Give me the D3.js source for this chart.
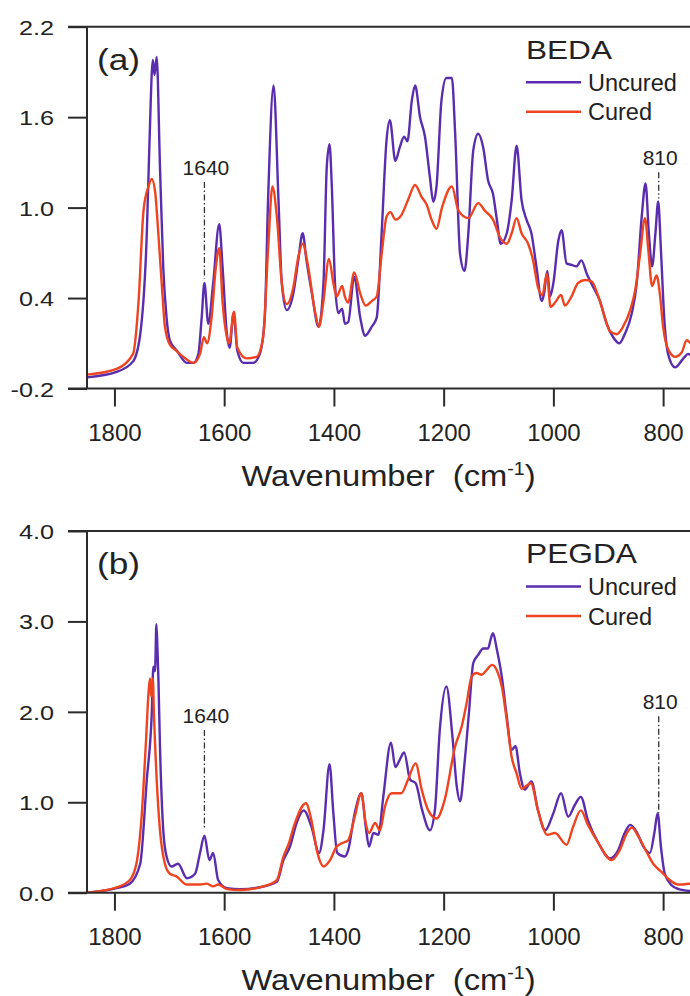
<!DOCTYPE html>
<html>
<head>
<meta charset="utf-8">
<script src="https://cdn.jsdelivr.net/npm/d3@7"></script>
<style>
  body { margin: 0; background: #fff; }
  svg { display: block; }
  svg text { font-family: "Liberation Sans", Arial, sans-serif; }
</style>
</head>
<body>
<div id="chart"></div>
<script>
// wavenumber ticks shared by both panels
const xTicks = [1800, 1600, 1400, 1200, 1000, 800];

// (a) BEDA
const bedaTicks = [-0.2, 0.4, 1.0, 1.6, 2.2];
const bedaUncuredWn = [1850, 1796, 1766, 1753, 1741, 1736, 1730, 1727, 1723, 1717, 1711, 1705, 1699, 1686, 1668, 1656, 1647, 1641, 1636, 1629, 1620, 1609, 1603, 1595, 1590, 1583, 1576, 1565, 1547, 1535, 1526, 1520, 1510, 1501, 1495, 1486, 1474, 1465, 1457, 1450, 1440, 1428, 1419, 1413, 1408, 1404, 1398, 1392, 1385, 1380, 1374, 1363, 1352, 1343, 1331, 1322, 1313, 1304, 1298, 1288, 1280, 1272, 1266, 1258, 1252, 1243, 1234, 1225, 1219, 1213, 1204, 1195, 1185, 1179, 1170, 1162, 1155, 1146, 1137, 1128, 1119, 1110, 1103, 1096, 1085, 1076, 1067, 1058, 1049, 1040, 1031, 1021, 1017, 1011, 1006, 1000, 991, 985, 976, 967, 958, 949, 939, 927, 915, 903, 891, 880, 870, 857, 848, 839, 832, 826, 820, 814, 809, 804, 798, 791, 778, 763, 754, 750];
const bedaUncured = [-0.126, -0.09, -0.02, 0.16, 0.83, 1.45, 1.98, 1.88, 2.0, 1.27, 0.6, 0.27, 0.12, 0.05, -0.03, -0.03, 0.03, 0.27, 0.5, 0.23, 0.5, 0.89, 0.61, 0.16, 0.07, 0.30, 0.05, -0.03, -0.03, 0.03, 0.27, 1.05, 1.81, 1.05, 0.5, 0.32, 0.43, 0.65, 0.83, 0.65, 0.43, 0.21, 0.5, 1.27, 1.42, 1.16, 0.5, 0.3, 0.33, 0.23, 0.24, 0.54, 0.27, 0.15, 0.21, 0.27, 0.83, 1.45, 1.58, 1.31, 1.40, 1.47, 1.44, 1.71, 1.81, 1.60, 1.47, 1.20, 1.04, 1.14, 1.71, 1.86, 1.86, 1.49, 0.69, 0.58, 0.83, 1.38, 1.49, 1.40, 1.18, 1.09, 0.92, 0.76, 0.83, 1.05, 1.41, 1.05, 0.92, 0.83, 0.61, 0.38, 0.43, 0.58, 0.41, 0.5, 0.78, 0.85, 0.63, 0.62, 0.61, 0.65, 0.56, 0.47, 0.38, 0.23, 0.14, 0.10, 0.16, 0.30, 0.5, 0.94, 1.16, 0.83, 0.61, 0.83, 1.04, 0.72, 0.27, 0.03, -0.06, 0.0, 0.03, 0.02];
const bedaCuredWn = [1850, 1796, 1766, 1756, 1747, 1738, 1732, 1726, 1720, 1713, 1708, 1699, 1687, 1671, 1656, 1644, 1637, 1631, 1623, 1615, 1609, 1603, 1595, 1591, 1582, 1576, 1559, 1541, 1529, 1520, 1512, 1504, 1495, 1486, 1474, 1465, 1457, 1447, 1435, 1427, 1419, 1409, 1401, 1395, 1385, 1380, 1374, 1363, 1352, 1342, 1331, 1322, 1313, 1304, 1297, 1288, 1277, 1265, 1252, 1240, 1231, 1222, 1213, 1203, 1185, 1173, 1155, 1137, 1125, 1110, 1097, 1085, 1076, 1067, 1058, 1046, 1037, 1028, 1020, 1012, 1005, 997, 986, 979, 967, 955, 942, 930, 918, 906, 897, 885, 873, 860, 851, 842, 833, 827, 820, 812, 806, 800, 792, 778, 766, 757, 750];
const bedaCured = [-0.108, -0.07, 0.03, 0.38, 0.98, 1.14, 1.19, 1.11, 0.83, 0.45, 0.21, 0.09, 0.05, 0.0, -0.03, 0.03, 0.14, 0.10, 0.27, 0.61, 0.73, 0.38, 0.14, 0.10, 0.31, 0.07, 0.0, 0.01, 0.14, 0.72, 1.14, 0.94, 0.5, 0.36, 0.47, 0.67, 0.76, 0.61, 0.32, 0.21, 0.38, 0.66, 0.5, 0.41, 0.48, 0.41, 0.37, 0.57, 0.43, 0.35, 0.38, 0.41, 0.69, 0.94, 0.97, 0.92, 0.95, 1.05, 1.15, 1.07, 1.02, 0.92, 0.86, 1.0, 1.14, 0.98, 0.93, 1.03, 0.98, 0.92, 0.80, 0.76, 0.83, 0.93, 0.83, 0.76, 0.65, 0.47, 0.42, 0.56, 0.34, 0.37, 0.42, 0.35, 0.41, 0.50, 0.52, 0.51, 0.41, 0.27, 0.18, 0.16, 0.21, 0.32, 0.45, 0.69, 0.93, 0.72, 0.48, 0.55, 0.43, 0.21, 0.07, 0.01, 0.04, 0.12, 0.10];

// (b) PEGDA
const pegdaTicks = [0.0, 1.0, 2.0, 3.0, 4.0];
const pegdaUncuredWn = [1850, 1796, 1772, 1753, 1741, 1732, 1729, 1726, 1723.5, 1721.5, 1720, 1717, 1711, 1705, 1696, 1684, 1668, 1653, 1644, 1636, 1627, 1620, 1611, 1595, 1571, 1535, 1504, 1492, 1480, 1468, 1455, 1441, 1427, 1419, 1408, 1401, 1394, 1380, 1374, 1362, 1350, 1342, 1336, 1328, 1319, 1310, 1296, 1288, 1280, 1272, 1261, 1251, 1239, 1225, 1216, 1207, 1195, 1184, 1176, 1170, 1162, 1154, 1146, 1137, 1128, 1119, 1114, 1110, 1103, 1094, 1085, 1076, 1069, 1061, 1052, 1040, 1028, 1015, 1000, 986, 973, 961, 950, 937, 918, 897, 882, 870, 860, 848, 836, 824, 816, 810, 804, 797, 784, 772, 750];
const pegdaUncured = [0.0, 0.05, 0.10, 0.32, 1.25, 1.98, 2.50, 2.45, 2.97, 2.68, 2.40, 1.62, 0.69, 0.40, 0.29, 0.32, 0.16, 0.21, 0.44, 0.63, 0.36, 0.44, 0.14, 0.05, 0.04, 0.06, 0.12, 0.36, 0.51, 0.77, 0.91, 0.73, 0.44, 0.69, 1.42, 0.88, 0.44, 0.40, 0.47, 0.88, 1.10, 0.73, 0.51, 0.66, 0.64, 1.06, 1.66, 1.39, 1.47, 1.55, 1.25, 1.21, 0.91, 0.69, 0.91, 1.80, 2.28, 1.73, 1.17, 1.01, 1.43, 1.98, 2.54, 2.63, 2.70, 2.70, 2.81, 2.87, 2.69, 2.39, 1.95, 1.58, 1.62, 1.32, 1.14, 1.23, 0.91, 0.69, 0.88, 1.10, 0.84, 0.97, 1.06, 0.80, 0.55, 0.38, 0.47, 0.66, 0.75, 0.67, 0.51, 0.44, 0.66, 0.88, 0.51, 0.21, 0.08, 0.04, 0.02];
const pegdaCuredWn = [1850, 1796, 1772, 1760, 1750, 1743, 1737, 1735, 1733, 1730, 1728, 1723, 1717, 1708, 1699, 1687, 1668, 1644, 1632, 1620, 1611, 1595, 1571, 1529, 1504, 1492, 1483, 1471, 1451, 1441, 1430, 1419, 1407, 1395, 1380, 1374, 1362, 1350, 1342, 1336, 1325, 1316, 1307, 1295, 1277, 1265, 1251, 1240, 1228, 1213, 1198, 1179, 1167, 1158, 1149, 1140, 1131, 1122, 1112, 1103, 1094, 1085, 1076, 1067, 1058, 1041, 1028, 1011, 997, 976, 964, 950, 937, 918, 894, 879, 866, 857, 845, 830, 818, 803, 788, 772, 750];
const pegdaCured = [0.0, 0.06, 0.14, 0.32, 0.88, 1.62, 2.28, 2.37, 2.17, 2.37, 1.98, 1.25, 0.69, 0.32, 0.21, 0.18, 0.09, 0.09, 0.10, 0.07, 0.09, 0.04, 0.03, 0.07, 0.14, 0.40, 0.53, 0.77, 0.99, 0.80, 0.44, 0.29, 0.36, 0.51, 0.56, 0.58, 0.84, 1.10, 0.77, 0.66, 0.77, 0.69, 0.95, 1.10, 1.10, 1.25, 1.43, 1.14, 0.91, 0.82, 1.03, 1.62, 1.84, 2.10, 2.39, 2.43, 2.41, 2.46, 2.52, 2.46, 2.28, 1.91, 1.50, 1.32, 1.15, 1.21, 0.91, 0.64, 0.66, 0.53, 0.73, 0.91, 0.75, 0.55, 0.36, 0.47, 0.66, 0.72, 0.62, 0.45, 0.32, 0.23, 0.14, 0.09, 0.10];

// annotations: label, wavenumber, line top, line bottom
const bedaMarks = [["1640", 1636, 1.17, 0.53], ["810", 808, 1.235, 1.06]];
const pegdaMarks = [["1640", 1636, 1.80, 0.72], ["810", 808, 1.95, 0.88]];

const uncuredColor = "#5a2cae";
const curedColor = "#ee4420";
const inkColor = "#2b2b2b";
const fontFamily = "'Liberation Sans', Arial, sans-serif";

const width = 690;
const height = 996;
const left = 87;
const right = 690;

const svg = d3.select("#chart")
    .append("svg")
    .attr("width", width)
    .attr("height", height)
    .attr("font-family", fontFamily);

const x = d3.scaleLinear().domain([1850, 751]).range([left, right]);

const toPoints = (wn, vals) => wn.map((w, i) => [w, vals[i]]);

function drawPanel(opt) {
  const y = d3.scaleLinear().domain(opt.domain).range([opt.bottom, opt.top]);
  const g = svg.append("g");

  g.append("clipPath")
      .attr("id", "clip-" + opt.id)
      .append("rect")
      .attr("x", left)
      .attr("y", opt.top)
      .attr("width", right - left)
      .attr("height", opt.bottom - opt.top);

  const line = d3.line()
      .x((d) => x(d[0]))
      .y((d) => y(d[1]))
      .curve(d3.curveMonotoneX);

  const plot = g.append("g").attr("clip-path", `url(#clip-${opt.id})`);
  plot.append("path")
      .datum(toPoints(opt.uncuredWn, opt.uncured))
      .attr("fill", "none")
      .attr("stroke", uncuredColor)
      .attr("stroke-width", 2.4)
      .attr("stroke-linejoin", "round")
      .attr("d", line);
  plot.append("path")
      .datum(toPoints(opt.curedWn, opt.cured))
      .attr("fill", "none")
      .attr("stroke", curedColor)
      .attr("stroke-width", 2.4)
      .attr("stroke-linejoin", "round")
      .attr("d", line);

  // y axis
  const yAxis = g.append("g")
      .attr("transform", `translate(${left},0)`)
      .call(d3.axisLeft(y).tickValues(opt.ticks).tickSize(19).tickSizeOuter(0));
  yAxis.attr("font-family", fontFamily);
  yAxis.select(".domain").remove();
  yAxis.selectAll("line").attr("stroke", inkColor).attr("stroke-width", 2);
  yAxis.selectAll("text")
      .attr("x", -27.5)
      .attr("dy", "0.36em")
      .attr("transform", "scale(1.2,1)")
      .attr("font-size", 21)
      .attr("fill", "#222")
      .text((d) => d3.format(".1f")(d).replace("\u2212", "-"));

  // x axis
  const xAxis = g.append("g")
      .attr("transform", `translate(0,${opt.bottom})`)
      .call(d3.axisBottom(x).tickValues(xTicks).tickFormat(d3.format("d"))
          .tickSize(18).tickPadding(17).tickSizeOuter(0));
  xAxis.attr("font-family", fontFamily);
  xAxis.select(".domain").remove();
  xAxis.selectAll("line").attr("stroke", inkColor).attr("stroke-width", 2);
  xAxis.selectAll("text")
      .attr("font-size", 24)
      .attr("fill", "#222");

  // frame: top, left, bottom
  const frame = g.append("g")
      .attr("stroke", inkColor)
      .attr("stroke-width", 2)
      .attr("fill", "none");
  frame.append("line").attr("x1", 68).attr("x2", right).attr("y1", opt.top).attr("y2", opt.top);
  frame.append("line").attr("x1", 68).attr("x2", right).attr("y1", opt.bottom).attr("y2", opt.bottom);
  frame.append("line").attr("x1", left).attr("x2", left).attr("y1", opt.top).attr("y2", opt.bottom);

  // panel letter
  g.append("text")
      .attr("x", 97)
      .attr("y", opt.top + 43)
      .attr("font-size", 30)
      .attr("textLength", 43)
      .attr("lengthAdjust", "spacingAndGlyphs")
      .attr("fill", "#222")
      .text(opt.letter);

  // legend
  g.append("text")
      .attr("x", 526)
      .attr("y", opt.top + 32)
      .attr("font-size", opt.titleSize)
      .attr("textLength", opt.titleLength)
      .attr("lengthAdjust", "spacingAndGlyphs")
      .attr("fill", "#222")
      .text(opt.name);
  [["Uncured", uncuredColor], ["Cured", curedColor]].forEach((d, i) => {
    const ly = opt.top + 55.5 + i * 29.5;
    g.append("line")
        .attr("x1", 526).attr("x2", 581)
        .attr("y1", ly).attr("y2", ly)
        .attr("stroke", d[1])
        .attr("stroke-width", 2.4);
    g.append("text")
        .attr("x", 588)
        .attr("y", ly + 8.5)
        .attr("font-size", 23.5)
        .attr("fill", "#222")
        .text(d[0]);
  });

  // peak markers
  opt.marks.forEach((m) => {
    g.append("line")
        .attr("x1", x(m[1])).attr("x2", x(m[1]))
        .attr("y1", y(m[2])).attr("y2", y(m[3]))
        .attr("stroke", "#333")
        .attr("stroke-width", 1.3)
        .attr("stroke-dasharray", "6,2.5,1.5,2.5");
    g.append("text")
        .attr("x", x(m[1]) + 1.5)
        .attr("y", y(m[2]) - 7)
        .attr("text-anchor", "middle")
        .attr("font-size", 21)
        .attr("fill", "#222")
        .text(m[0]);
  });

  // axis title
  const title = g.append("text")
      .attr("text-anchor", "middle")
      .attr("transform", `translate(${(left + right) / 2},${opt.bottom + 97}) scale(1.09,1)`)
      .attr("font-size", 30)
      .attr("fill", "#222");
  title.append("tspan").text("Wavenumber\u00a0\u00a0(cm");
  title.append("tspan").attr("font-size", 18).attr("dy", -11).text("-1");
  title.append("tspan").attr("dy", 11).text(")");
}

drawPanel({
  id: "a", letter: "(a)", name: "BEDA", titleSize: 26.5, titleLength: 86,
  top: 26.7, bottom: 388.5, domain: [-0.2, 2.2], ticks: bedaTicks,
  uncuredWn: bedaUncuredWn, uncured: bedaUncured,
  curedWn: bedaCuredWn, cured: bedaCured, marks: bedaMarks,
});

drawPanel({
  id: "b", letter: "(b)", name: "PEGDA", titleSize: 28, titleLength: 111,
  top: 531, bottom: 892.7, domain: [0, 4], ticks: pegdaTicks,
  uncuredWn: pegdaUncuredWn, uncured: pegdaUncured,
  curedWn: pegdaCuredWn, cured: pegdaCured, marks: pegdaMarks,
});
</script>
</body>
</html>
